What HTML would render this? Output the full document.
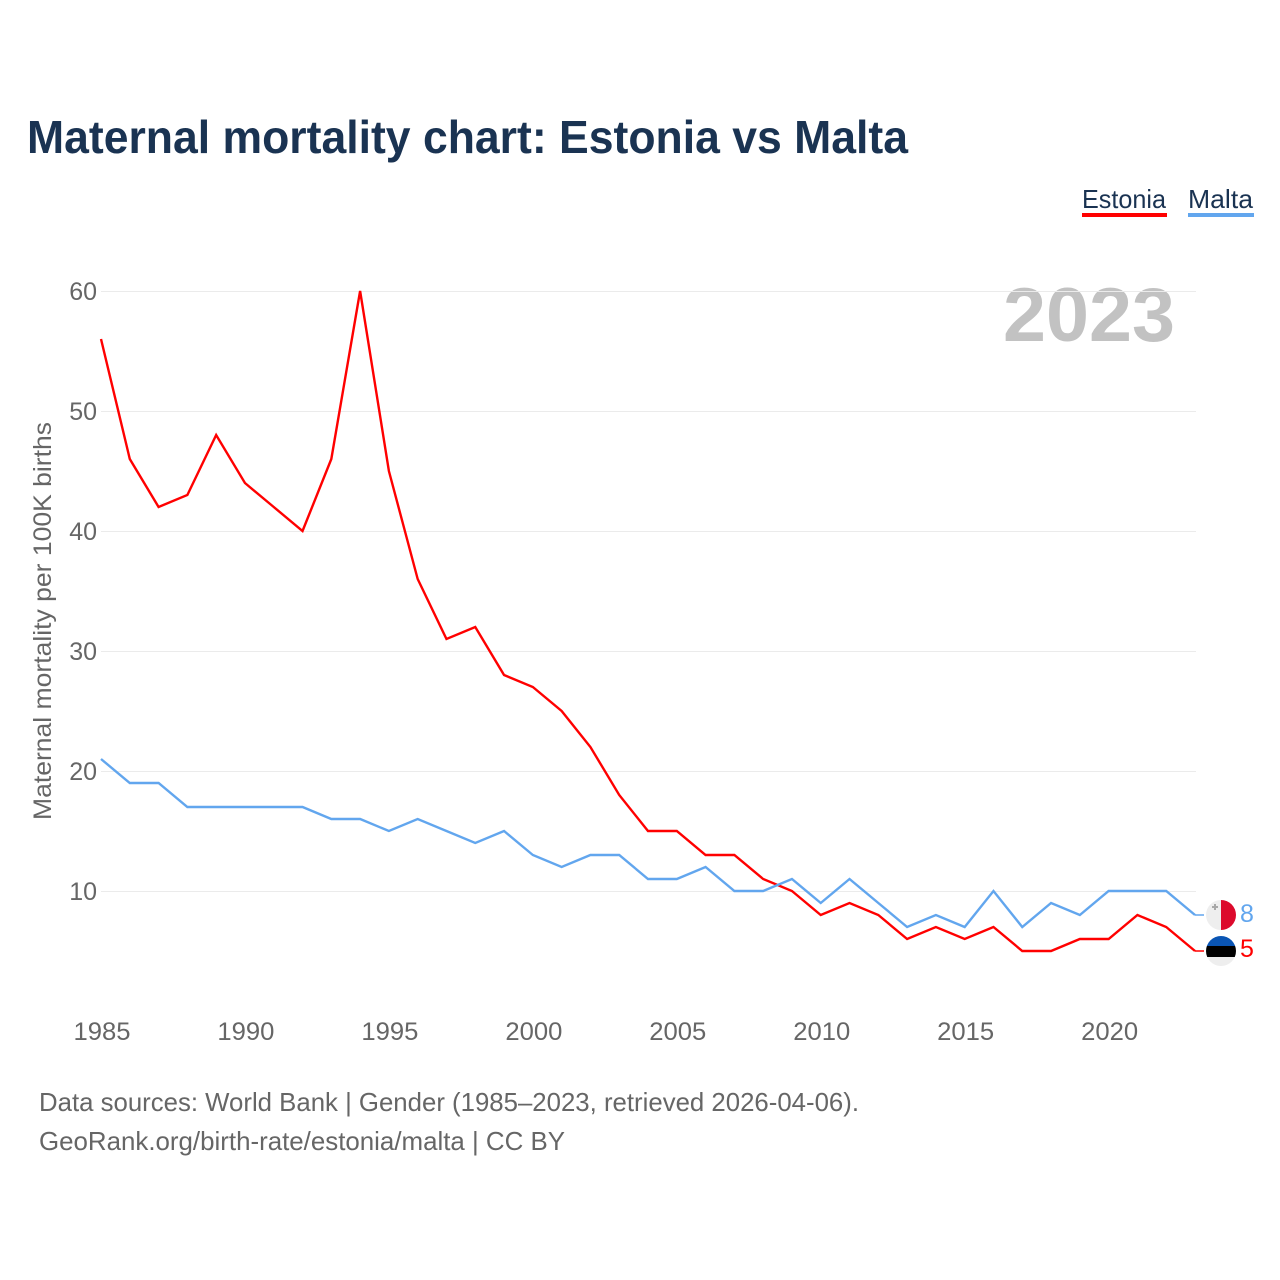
<!DOCTYPE html>
<html>
<head>
<meta charset="utf-8">
<title>Maternal mortality chart: Estonia vs Malta</title>
<style>
html,body{margin:0;padding:0;background:#fff;width:1280px;height:1280px;overflow:hidden}
svg{display:block}
text{font-family:"Liberation Sans",sans-serif}
</style>
</head>
<body>
<svg id="chart" width="1280" height="1280" viewBox="0 0 1280 1280" xmlns="http://www.w3.org/2000/svg">
  <text x="27" y="153" font-size="46" font-weight="700" fill="#1a3352" textLength="881" lengthAdjust="spacingAndGlyphs">Maternal mortality chart: Estonia vs Malta</text>
  <g>
    <g>
      <text x="1082" y="208" font-size="26" fill="#1a3352" textLength="84" lengthAdjust="spacingAndGlyphs">Estonia</text>
      <rect x="1082" y="213" width="85" height="4" fill="#ff0000"/>
    </g>
    <g>
      <text x="1188" y="208" font-size="26" fill="#1a3352" textLength="65" lengthAdjust="spacingAndGlyphs">Malta</text>
      <rect x="1188" y="213" width="66" height="4" fill="#62a6ee"/>
    </g>
  </g>
  <text x="1175" y="341" font-size="76" font-weight="700" fill="#c2c2c2" text-anchor="end" textLength="172" lengthAdjust="spacingAndGlyphs">2023</text>
  <g id="grid"></g>
  <g id="yticks"></g>
  <g id="xticks"></g>
  <text transform="translate(51,621) rotate(-90)" font-size="25" fill="#666666" text-anchor="middle" textLength="398" lengthAdjust="spacingAndGlyphs">Maternal mortality per 100K births</text>
  <path id="line-estonia" fill="none" stroke="#ff0000" stroke-width="2.4" stroke-linejoin="miter"/>
  <path id="line-malta" fill="none" stroke="#62a6ee" stroke-width="2.4" stroke-linejoin="miter"/>
  <path id="leader-estonia" fill="none" stroke="#ff0000" stroke-width="1.5"/>
  <path id="leader-malta" fill="none" stroke="#62a6ee" stroke-width="1.5"/>
  <defs>
    <clipPath id="clip-mt"><circle cx="1221" cy="0" r="15"/></clipPath>
    <clipPath id="clip-ee"><circle cx="1221" cy="0" r="15"/></clipPath>
  </defs>
  <g id="flag-malta">
    <g clip-path="url(#clip-mt)">
      <rect x="1206" y="-15" width="15" height="30" fill="#eeeeee"/>
      <rect x="1221" y="-15" width="15" height="30" fill="#dc0a2c"/>
      <path d="M1215 -11v6M1212 -8h6" stroke="#a8a8a8" stroke-width="2" fill="none"/>
    </g>
  </g>
  <g id="flag-estonia">
    <g clip-path="url(#clip-ee)">
      <rect x="1206" y="-15" width="30" height="10" fill="#0a55b4"/>
      <rect x="1206" y="-5" width="30" height="11" fill="#000000"/>
      <rect x="1206" y="6" width="30" height="9" fill="#eeeeee"/>
    </g>
  </g>
  <text id="value-malta" x="1240" font-size="25" fill="#62a6ee"></text>
  <text id="value-estonia" x="1240" font-size="25" fill="#ff0000"></text>
  <g>
    <text x="39" y="1111" font-size="26" fill="#666666" textLength="820" lengthAdjust="spacingAndGlyphs">Data sources: World Bank | Gender (1985–2023, retrieved 2026-04-06).</text>
    <text x="39" y="1150" font-size="26" fill="#666666" textLength="526" lengthAdjust="spacingAndGlyphs">GeoRank.org/birth-rate/estonia/malta | CC BY</text>
  </g>
</svg>
<script>
const years = [1985,1986,1987,1988,1989,1990,1991,1992,1993,1994,1995,1996,1997,1998,1999,2000,2001,2002,2003,2004,2005,2006,2007,2008,2009,2010,2011,2012,2013,2014,2015,2016,2017,2018,2019,2020,2021,2022,2023];
const estonia = [56,46,42,43,48,44,42,40,46,60,45,36,31,32,28,27,25,22,18,15,15,13,13,11,10,8,9,8,6,7,6,7,5,5,6,6,8,7,5];
const malta = [21,19,19,17,17,17,17,17,16,16,15,16,15,14,15,13,12,13,13,11,11,12,10,10,11,9,11,9,7,8,7,10,7,9,8,10,10,10,8];
const yTickLabels = [10,20,30,40,50,60];
const xTickLabels = [1985,1990,1995,2000,2005,2010,2015,2020];

const firstYear = years[0];
const lastYear = years[years.length - 1];
const NS = 'http://www.w3.org/2000/svg';
function xScale(year) { return 101 + (year - firstYear) * (1195 - 101) / (2023 - 1985); }
function yScale(value) { return 891 - (value - 10) * 12; }
function linePath(series) {
  return series.map((v, i) => (i ? 'L' : 'M') + xScale(years[i]).toFixed(2) + ' ' + yScale(v).toFixed(2)).join('');
}

const grid = document.getElementById('grid');
const yticks = document.getElementById('yticks');
const xticks = document.getElementById('xticks');

yTickLabels.forEach(function (t) {
  const ln = document.createElementNS(NS, 'line');
  
  
  ln.setAttribute('x1', 101);
  ln.setAttribute('x2', 1196);
  ln.setAttribute('y1', yScale(t) + 0.5);
  ln.setAttribute('y2', yScale(t) + 0.5);
  ln.setAttribute('stroke', '#ebebeb');
  ln.setAttribute('stroke-width', '1');
  grid.appendChild(ln);

  const tx = document.createElementNS(NS, 'text');
  
  
  tx.setAttribute('x', 97);
  tx.setAttribute('y', yScale(t) + 9);
  tx.setAttribute('text-anchor', 'end');
  tx.setAttribute('font-size', '25');
  tx.setAttribute('fill', '#666666');
  tx.textContent = t;
  yticks.appendChild(tx);
});

xTickLabels.forEach(function (t) {
  const tx = document.createElementNS(NS, 'text');
  
  
  tx.setAttribute('x', xScale(t) + 1);
  tx.setAttribute('y', 1040);
  tx.setAttribute('text-anchor', 'middle');
  tx.setAttribute('font-size', '25');
  tx.setAttribute('fill', '#666666');
  tx.setAttribute('textLength', '57');
  tx.setAttribute('lengthAdjust', 'spacingAndGlyphs');
  tx.textContent = t;
  xticks.appendChild(tx);
});

document.getElementById('line-estonia').setAttribute('d', linePath(estonia));
document.getElementById('line-malta').setAttribute('d', linePath(malta));

const lastE = estonia[estonia.length - 1];
const lastM = malta[malta.length - 1];
const endX = xScale(lastYear);
const yE = yScale(lastE);
const yM = yScale(lastM);
document.getElementById('leader-estonia').setAttribute('d', 'M' + endX + ' ' + yE + 'H1204');
document.getElementById('leader-malta').setAttribute('d', 'M' + endX + ' ' + yM + 'H1204');

document.getElementById('flag-malta').setAttribute('transform', 'translate(0,' + yM + ')');
document.getElementById('flag-estonia').setAttribute('transform', 'translate(0,' + yE + ')');
const vm = document.getElementById('value-malta');
vm.textContent = lastM;
vm.setAttribute('y', yM + 7);
const ve = document.getElementById('value-estonia');
ve.textContent = lastE;
ve.setAttribute('y', yE + 6);
</script>
</body>
</html>
